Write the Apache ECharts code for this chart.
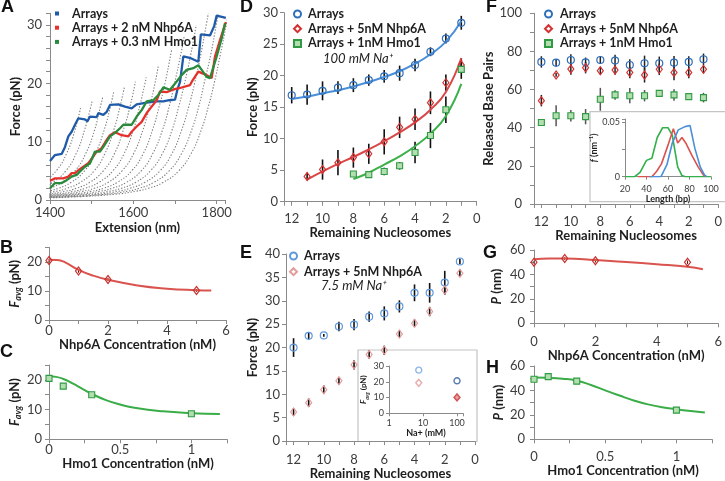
<!DOCTYPE html>
<html><head><meta charset="utf-8"><title>chart</title>
<script src="https://cdn.jsdelivr.net/npm/echarts@6/dist/echarts.min.js"></script>
<style>html,body{margin:0;padding:0;background:#fff;}#chart{width:725px;height:481px;}</style>
</head><body><div id="chart"></div>
<script>
// ---------- Panel A : force-extension traces ----------
const aBlueTrace = [[1400,6.7],[1412,7.7],[1428,7.9],[1436,9.1],[1444,10.9],[1452,11.7],[1460,12.9],[1468,14.0],[1484,13.8],[1490,13.5],[1496,14.3],[1512,14.2],[1516,14.9],[1528,14.6],[1536,15.1],[1544,16.3],[1564,16.4],[1580,16.0],[1596,15.7],[1608,16.4],[1632,16.7],[1656,16.9],[1672,16.9],[1686,17.1],[1700,17.2],[1706,19.0],[1712,20.2],[1720,24.6],[1738,24.3],[1756,23.7],[1762,28.4],[1784,28.2],[1794,29.8],[1800,31.6],[1822,31.2]];
const aRedTrace = [[1400,3.3],[1412,3.7],[1432,3.7],[1444,4.0],[1452,4.6],[1460,4.6],[1468,5.1],[1480,5.7],[1492,6.3],[1500,7.1],[1512,8.3],[1524,8.9],[1536,10.3],[1544,11.1],[1556,11.6],[1572,11.1],[1588,10.9],[1596,11.7],[1608,12.6],[1620,13.4],[1632,14.9],[1644,16.0],[1656,17.1],[1664,18.6],[1680,18.5],[1695,18.9],[1712,19.2],[1736,19.7],[1743,20.6],[1756,22.0],[1776,21.4],[1788,20.9],[1796,24.6],[1808,27.4],[1822,30.5]];
const aGreenTrace = [[1400,2.0],[1412,2.9],[1428,2.9],[1440,3.4],[1452,4.0],[1464,4.3],[1472,4.9],[1484,5.7],[1496,6.3],[1508,8.3],[1520,8.3],[1528,9.1],[1544,10.9],[1556,11.5],[1568,12.3],[1576,12.9],[1596,12.9],[1608,14.3],[1620,15.4],[1632,16.9],[1648,17.1],[1660,18.0],[1672,19.3],[1688,18.9],[1704,20.3],[1716,21.4],[1728,22.3],[1744,22.6],[1756,23.1],[1764,22.3],[1776,21.1],[1784,20.9],[1800,24.6],[1812,27.7],[1820,30.3]];
const aGuideCurves = [
 [[1384,3],[1415,5],[1440,8],[1460,12],[1474,16]],
 [[1376,2],[1406,3],[1438,5],[1463,8],[1483,12],[1498,16],[1501,17]],
 [[1373,1.5],[1398,2],[1428,3],[1460,5],[1486,8],[1507,12],[1521,16],[1527,17.8]],
 [[1352,1],[1394,1.5],[1420,2],[1450,3],[1483,5],[1509,8],[1530,12],[1545,16],[1553,18.6]],
 [[1372,1],[1415,1.5],[1441,2],[1472,3],[1506,5],[1532,8],[1553,12],[1568,16],[1579,19.5]],
 [[1296,0.5],[1393,1],[1437,1.5],[1463,2],[1495,3],[1528,5],[1555,8],[1576,12],[1592,16],[1605,20.3]],
 [[1315,0.5],[1414,1],[1458,1.5],[1484,2],[1517,3],[1551,5],[1578,8],[1600,12],[1615,16],[1628,20],[1631,21]],
 [[1334,0.5],[1434,1],[1479,1.5],[1506,2],[1539,3],[1573,5],[1601,8],[1623,12],[1639,16],[1652,20],[1660,23]],
 [[1353,0.5],[1455,1],[1500,1.5],[1528,2],[1561,3],[1596,5],[1624,8],[1646,12],[1662,16],[1676,20],[1690,25],[1692,25.7]],
 [[1373,0.5],[1475,1],[1521,1.5],[1549,2],[1583,3],[1619,5],[1647,8],[1670,12],[1686,16],[1699,20],[1714,25],[1722,28]],
 [[1392,0.5],[1496,1],[1543,1.5],[1571,2],[1605,3],[1641,5],[1670,8],[1693,12],[1709,16],[1723,20],[1738,25],[1751,30]],
 [[1306,0.3],[1411,0.5],[1517,1],[1564,1.5],[1592,2],[1627,3],[1664,5],[1693,8],[1716,12],[1733,16],[1747,20],[1762,25],[1775,30],[1780,32]],
 [[1324,0.3],[1430,0.5],[1537,1],[1585,1.5],[1614,2],[1649,3],[1686,5],[1716,8],[1740,12],[1757,16],[1770,20],[1786,25],[1799,30],[1804,32]],
 [[1342,0.3],[1449,0.5],[1558,1],[1606,1.5],[1636,2],[1671,3],[1709,5],[1739,8],[1763,12],[1780,16],[1794,20],[1809,25],[1823,30],[1828,32]]
];
// ---------- Panel B ----------
const bConc = [0,1,2,5];
const bFavg = [20.5,16.9,14.0,10.2];
const bErr = [0.6,0.6,0.6,0.5];
const bFitConc = [0,0.25,0.5,1,1.5,2,3,4,5,5.5];
const bFitF = [20.8,20.7,20.1,17.3,15.3,13.9,11.9,10.8,10.3,10.2];
// ---------- Panel C ----------
const cConc = [0,0.1,0.3,1];
const cFavg = [20.5,17.9,15.0,8.6];
const cErr = [0.5,0.7,0.8,0.5];
const cFitConc = [0,0.05,0.1,0.15,0.2,0.3,0.4,0.5,0.6,0.8,1.0,1.2];
const cFitF = [21.2,21.0,20.3,19.2,17.9,15.3,13.2,11.7,10.6,9.4,8.8,8.5];
// ---------- Panel D ----------
const nucAll = [12,11,10,9,8,7,6,5,4,3,2,1];
const dArrays = [16.9,17.0,17.6,18.1,18.5,19.3,19.9,20.4,21.7,23.8,25.9,28.4];
const dArraysErr = [1.3,1.6,1.5,1.0,1.1,0.9,1.0,1.2,1.0,0.7,0.8,1.1];
const dArraysFit = [16.3,16.7,17.2,17.7,18.3,19.0,19.8,20.7,21.9,23.4,25.4,28.7];
const dNhpNuc = [11,10,9,8,7,6,5,4,3,2,1];
const dNhp = [4.0,5.1,6.2,7.0,7.6,9.5,11.8,13.1,15.7,18.9,21.7];
const dNhpErr = [0.6,1.6,2.0,1.6,1.6,2.0,1.7,1.7,1.8,1.3,1.1];
const dNhpFit = [3.5,4.8,6.0,7.1,8.3,9.6,11.0,12.6,14.6,17.4,22.8];
const dHmoNuc = [8,7,6,5,4,3,2,1];
const dHmo = [4.4,4.3,4.8,5.7,7.8,10.5,14.6,21.0];
const dHmoErr = [0.3,0.5,0.6,0.6,1.7,2.0,2.1,1.5];
const dHmoFit = [3.6,4.6,5.9,7.2,8.8,10.8,13.6,18.7];
// ---------- Panel E ----------
const eArrays = [20.0,22.5,22.6,24.5,24.9,26.6,27.3,28.8,31.7,31.7,33.9,38.4];
const eArraysErr = [2.0,0.7,0.3,1.0,1.2,1.1,1.5,1.3,1.8,2.1,2.5,0.6];
const eNhp = [6.2,8.2,11.0,12.9,16.3,18.5,19.4,22.9,25.2,27.7,32.3,35.9];
const eNhpErr = [0.8,0.9,0.9,0.8,1.0,0.9,1.0,0.7,0.8,1.0,1.0,0.8];
const eInsetNa = [7.5,100];
const eInsetArrays = [27.4,20.6];
const eInsetNhp = [19.3,10.1];
// ---------- Panel F ----------
const fArrays = [74.5,74.1,75.5,74.3,75.5,75.2,72.9,73.8,73.8,74.1,74.5,75.9];
const fArraysErr = [3,2,3,2.5,2,3,3,4,3.5,3.5,3,3];
const fNhp = [54.2,67.7,70.8,71.5,69.9,70.3,68.9,67.7,70.6,68.9,68.9,70.6];
const fNhpErr = [3,1,3,3,2,2.5,3,4,3,4,3,2];
const fHmo = [42.7,46.3,46.3,45.8,54.9,57.2,56.8,56.8,58.0,57.2,56.3,55.8];
const fHmoErr = [1.5,5.5,3,4,6,2.5,4,3,1,3,1,2.5];
const fLenGreen = [20,29,34,40,45,50,55,60,64,69,73,76,100];
const fFreqGreen = [0,0,0.004,0.015,0.017,0.036,0.045,0.045,0.038,0.009,0.001,0,0];
const fLenRed = [32,45,49.5,54,60,65,69,73,76.5,82,88,93,95];
const fFreqRed = [0,0,0.005,0.012,0.029,0.044,0.031,0.036,0.031,0.020,0.009,0.0015,0];
const fLenBlue = [43,53.5,59,64,69.6,75.8,80.5,85,90,94,96];
const fFreqBlue = [0,0,0.011,0.031,0.043,0.046,0.047,0.026,0.009,0.0015,0];
// ---------- Panel G ----------
const gConc = [0,1,2,5];
const gP = [49.9,53.0,51.2,49.9];
const gErr = [1.2,1.2,1.5,1.5];
const gFitConc = [0,0.5,1,2,3,4,5,5.5];
const gFitP = [52.5,53.0,53.0,51.8,50.2,48.4,46.3,44.3];
// ---------- Panel H ----------
const hConc = [0,0.1,0.3,1];
const hP = [49.2,51.3,47.6,23.9];
const hErr = [1.0,1.0,1.2,1.0];
const hFitConc = [0,0.1,0.2,0.3,0.4,0.5,0.6,0.7,0.8,0.9,1.0,1.1,1.2];
const hFitP = [50.5,50.3,49.6,48.0,44.5,40.0,35.8,31.8,28.6,26.2,24.6,23.1,21.9];
// tick labels
const aXLabels=[1400,1600,1800], aYLabels=[0,10,20,30];
const bXLabels=[0,2,4,6], bYLabels=[0,10,20];
const cXLabels=[0,0.5,1], cYLabels=[0,10,20];
const nucLabels=[0,2,4,6,8,10,12];
const dYLabels=[0,5,10,15,20,25,30], eYLabels=[0,5,10,15,20,25,30,35,40];
const eInXLabels=[1,10,100], eInYLabels=[0,10,20,30];
const fYLabels=[0,20,40,60,80,100];
const fInXLabels=[20,40,60,80,100], fInYLabels=[0,0.05];
const ghYLabels=[0,20,40,60];

const legendText = {
  A_arr:'Arrays', A_nhp:'Arrays + 2 nM Nhp6A', A_hmo:'Arrays + 0.3 nM Hmo1',
  D_arr:'Arrays', D_nhp:'Arrays + 5nM Nhp6A', D_hmo:'Arrays + 1nM Hmo1',
  E_arr:'Arrays', E_nhp:'Arrays + 5nM Nhp6A',
  F_arr:'Arrays', F_nhp:'Arrays + 5nM Nhp6A', F_hmo:'Arrays + 1nM Hmo1'
};

const FONT = 'Lato, "DejaVu Sans", sans-serif';
const BLUE='#2e6fba', RED='#d62f2f', GREEN='#2f9a43', GFILL='#b3dfb0';
const zip = (xs, ys) => xs.map((x,i)=>[x, ys[i]]);

function axis(c){
  return {
    type: c.type || 'value', gridIndex: c.g, min: c.min, max: c.max, interval: c.interval,
    logBase: c.logBase, inverse: !!c.inverse, z: c.z || 0,
    name: c.name || '', nameLocation: 'middle', nameGap: c.nameGap || 20,
    nameTextStyle: {fontFamily: FONT, fontSize: c.nameSize || 13, fontWeight: 'bold', color: '#1e1e1e', rich: c.rich},
    axisLine: {show: true, onZero: false, lineStyle: {color: '#8a8a8a', width: 1}},
    axisTick: {show: true, length: c.tickLen || 4, lineStyle: {color: '#8a8a8a'}},
    minorTick: {show: false}, splitLine: {show: false},
    axisLabel: {show: true, margin: c.margin, fontFamily: FONT, fontSize: c.labelSize || 13, color: '#3c3c3c',
      hideOverlap: false, showMinLabel: true, showMaxLabel: true,
      formatter: v => c.labels.some(l => Math.abs(l - v) <= 1e-6 * Math.max(1, Math.abs(l))) ? String(+(+v).toPrecision(6)) : ''}
  };
}
const favgRich = (s) => ({i:{fontStyle:'italic', fontWeight:'bold', fontSize:s, fontFamily:FONT, color:'#1e1e1e', lineHeight:s+4},
                         s:{fontStyle:'italic', fontWeight:'bold', fontSize:Math.round(s*0.68), fontFamily:FONT, color:'#1e1e1e', verticalAlign:'bottom', lineHeight:Math.round(s*0.68)+1},
                         n:{fontWeight:'bold', fontSize:s, fontFamily:FONT, color:'#1e1e1e', lineHeight:s+4}});
const pRich = {i:{fontStyle:'italic', fontWeight:'bold', fontSize:13, fontFamily:FONT, color:'#1e1e1e'}, n:{fontWeight:'bold', fontSize:13, fontFamily:FONT, color:'#1e1e1e'}};

const grid = [
  {left:50, top:13.3, width:175, height:186.7},   // 0 A
  {left:49, top:247.5, width:177, height:72.5},   // 1 B
  {left:49, top:365, width:178, height:74.3},     // 2 C
  {left:284, top:12.7, width:192.7, height:189},  // 3 D
  {left:286, top:254, width:189, height:187.7},   // 4 E
  {left:389, top:366, width:74, height:47.3},     // 5 E inset
  {left:534, top:13.3, width:191, height:190.7},  // 6 F
  {left:625, top:119, width:86, height:57.7},     // 7 F inset
  {left:534, top:250, width:188, height:73.3},    // 8 G
  {left:534, top:366, width:178, height:73.3}     // 9 H
];

const xAxis = [
  axis({g:0, min:1400, max:1820, interval:100, labels:aXLabels, margin:6, name:'Extension (nm)', nameGap:21}),
  axis({g:1, min:0, max:6, interval:1, labels:bXLabels, margin:4, name:'Nhp6A Concentration (nM)', nameGap:14}),
  axis({g:2, min:0, max:1.25, interval:0.25, labels:cXLabels, margin:4, name:'Hmo1 Concentration (nM)', nameGap:9}),
  axis({g:3, min:0, max:12.5, interval:1, inverse:true, labels:nucLabels, margin:11, name:'Remaining Nucleosomes', nameGap:23}),
  axis({g:4, min:0, max:12.5, interval:1, inverse:true, labels:nucLabels, margin:12, name:'Remaining Nucleosomes', nameGap:24}),
  axis({g:5, type:'log', logBase:10, min:1, max:150, labels:eInXLabels, margin:5, labelSize:9, tickLen:3, name:'Na+ (mM)', nameSize:9, nameGap:14, z:3}),
  axis({g:6, min:0, max:12.5, interval:1, inverse:true, labels:nucLabels, margin:11, name:'Remaining Nucleosomes', nameGap:21}),
  axis({g:7, min:20, max:100, interval:20, labels:fInXLabels, margin:8, labelSize:9, tickLen:3, name:'Length (bp)', nameSize:9, nameGap:13, z:3}),
  axis({g:8, min:0, max:6, interval:1, labels:bXLabels, margin:12, name:'Nhp6A Concentration (nM)', nameGap:22}),
  axis({g:9, min:0, max:1.25, interval:0.25, labels:cXLabels, margin:11, name:'Hmo1 Concentration (nM)', nameGap:21})
];
const yAxis = [
  axis({g:0, min:0, max:32, interval:2, labels:aYLabels, margin:8, name:'Force (pN)', nameGap:28}),
  axis({g:1, min:0, max:25, interval:5, labels:bYLabels, margin:7, name:'{i|F}{s|avg}{n| (pN)}', rich:favgRich(13), nameGap:26}),
  axis({g:2, min:0, max:25, interval:5, labels:cYLabels, margin:7, name:'{i|F}{s|avg}{n| (pN)}', rich:favgRich(13), nameGap:26}),
  axis({g:3, min:0, max:30, interval:5, labels:dYLabels, margin:6, name:'Force (pN)', nameGap:25}),
  axis({g:4, min:0, max:40, interval:5, labels:eYLabels, margin:6, name:'Force (pN)', nameGap:27}),
  axis({g:5, min:0, max:30, interval:10, labels:eInYLabels, margin:5, labelSize:9, tickLen:3, name:'{i|F}{s|avg}{n| (pN)}', rich:favgRich(8), nameSize:8, nameGap:16, z:3}),
  axis({g:6, min:0, max:100, interval:10, labels:fYLabels, margin:12, name:'Released Base Pairs', nameGap:34}),
  axis({g:7, min:0, max:0.053, interval:0.025, labels:fInYLabels, margin:5, labelSize:9, tickLen:3, name:'{i|f}{n| (nm⁻¹)}', rich:{i:{fontStyle:'italic',fontWeight:'bold',fontSize:9,fontFamily:FONT,color:'#1e1e1e'}, n:{fontWeight:'bold',fontSize:9,fontFamily:FONT,color:'#1e1e1e'}}, nameSize:9, nameGap:8, z:3}),
  axis({g:8, min:0, max:60, interval:10, labels:ghYLabels, margin:9, name:'{i|P}{n| (nm)}', rich:pRich, nameGap:31}),
  axis({g:9, min:0, max:60, interval:10, labels:ghYLabels, margin:9, name:'{i|P}{n| (nm)}', rich:pRich, nameGap:29})
];

function errBars(ai, xs, ys, es, color, width, z){
  return {type:'custom', xAxisIndex:ai, yAxisIndex:ai, silent:true, z: z || 2,
    data: xs.map((x,i)=>[x, ys[i]-es[i], ys[i]+es[i]]), encode:{x:0, y:[1,2]},
    renderItem: (params, api) => {
      const p1 = api.coord([api.value(0), api.value(1)]);
      const p2 = api.coord([api.value(0), api.value(2)]);
      return {type:'line', shape:{x1:p1[0], y1:p1[1], x2:p2[0], y2:p2[1]}, style:{stroke:color, lineWidth:width}};
    }};
}
function pts(ai, name, xs, ys, shape, size, stroke, fill, bw){
  return {type:'scatter', name:name, xAxisIndex:ai, yAxisIndex:ai, data:zip(xs,ys), symbol:shape, symbolSize:size, z:4,
    itemStyle:{color: fill || 'rgba(255,255,255,0)', borderColor: stroke, borderWidth: bw || 1.2, opacity:1}};
}
function fit(ai, xs, ys, color, w){
  return {type:'line', xAxisIndex:ai, yAxisIndex:ai, data:zip(xs,ys), smooth:true, symbol:'none', silent:true, z:3,
    lineStyle:{color:color, width: w || 2}};
}

const series = [];
// A guides
aGuideCurves.forEach(c => series.push({type:'line', xAxisIndex:0, yAxisIndex:0, data:c, smooth:true, symbol:'none', clip:true, silent:true, z:1,
  lineStyle:{color:'#7d7d7d', width:1.1, type:[1.3,1.7]}}));
[['A_arr', aBlueTrace, '#1f5ba8'], ['A_nhp', aRedTrace, '#e5302b'], ['A_hmo', aGreenTrace, '#2a8a3c']].forEach(t =>
  series.push({type:'line', name:t[0], xAxisIndex:0, yAxisIndex:0, data:t[1], symbol:'none', clip:false, z:3,
    lineStyle:{color:t[2], width:2.3}, itemStyle:{color:t[2]}}));
// B
series.push(fit(1, bFitConc, bFitF, '#d9534f', 2));
series.push(errBars(1, bConc, bFavg, bErr, '#5a1a1a', 1));
series.push(pts(1, 'B_pts', bConc, bFavg, 'diamond', [6,8], '#c9302c'));
// C
series.push(fit(2, cFitConc, cFitF, '#3aad48', 2));
series.push(errBars(2, cConc, cFavg, cErr, '#333', 1));
series.push(pts(2, 'C_pts', cConc, cFavg, 'rect', 6, GREEN, GFILL, 1.1));
// D
series.push(fit(3, nucAll, dArraysFit, '#4a8fd8', 2));
series.push(fit(3, dNhpNuc, dNhpFit, '#d94848', 2));
series.push(fit(3, dHmoNuc, dHmoFit, '#3cb04a', 2));
series.push(errBars(3, nucAll, dArrays, dArraysErr, '#111', 1.6));
series.push(errBars(3, dNhpNuc, dNhp, dNhpErr, '#111', 1.6));
series.push(errBars(3, dHmoNuc, dHmo, dHmoErr, '#111', 1.6));
series.push(pts(3, 'D_arr', nucAll, dArrays, 'circle', 7, BLUE));
series.push(pts(3, 'D_nhp', dNhpNuc, dNhp, 'diamond', [6,8], RED));
series.push(pts(3, 'D_hmo', dHmoNuc, dHmo, 'rect', 6, GREEN, GFILL, 1.1));
// E
series.push(errBars(4, nucAll, eArrays, eArraysErr, '#111', 1.6));
series.push(errBars(4, nucAll, eNhp, eNhpErr, '#111', 1.6));
series.push(pts(4, 'E_arr', nucAll, eArrays, 'circle', 7, '#5f98de'));
series.push(pts(4, 'E_nhp', nucAll, eNhp, 'diamond', [6,8], '#e39c9c'));
// E inset
const eInsetArrColors = ['#6fa2e2', '#2c5a9a'];
const eInsetNhpColors = ['#e29a9a', '#c93434'];
series.push({type:'scatter', xAxisIndex:5, yAxisIndex:5, symbol:'circle', symbolSize:6, z:5,
  data: eInsetNa.map((x,i)=>({value:[x, eInsetArrays[i]], itemStyle:{color:'rgba(255,255,255,0)', borderColor:eInsetArrColors[i], borderWidth:1.4}}))});
series.push({type:'scatter', xAxisIndex:5, yAxisIndex:5, symbol:'diamond', symbolSize:[6,7], z:5,
  data: eInsetNa.map((x,i)=>({value:[x, eInsetNhp[i]], itemStyle:{color: i ? '#e58a8a' : 'rgba(255,255,255,0)', borderColor:eInsetNhpColors[i], borderWidth:1.4}}))});
// F
series.push(errBars(6, nucAll, fArrays, fArraysErr, '#222', 1.5));
series.push(errBars(6, nucAll, fNhp, fNhpErr, '#222', 1.5));
series.push(errBars(6, nucAll, fHmo, fHmoErr, '#555', 1.5));
series.push(pts(6, 'F_arr', nucAll, fArrays, 'circle', 7, BLUE));
series.push(pts(6, 'F_nhp', nucAll, fNhp, 'diamond', [6,8], RED));
series.push(pts(6, 'F_hmo', nucAll, fHmo, 'rect', 6, GREEN, GFILL, 1.1));
// F inset
series.push({type:'line', xAxisIndex:7, yAxisIndex:7, data:zip(fLenGreen, fFreqGreen), symbol:'none', silent:true, z:5, lineStyle:{color:'#32b04a', width:1.6}});
series.push({type:'line', xAxisIndex:7, yAxisIndex:7, data:zip(fLenRed, fFreqRed), symbol:'none', silent:true, z:5, lineStyle:{color:'#d9534f', width:1.6}});
series.push({type:'line', xAxisIndex:7, yAxisIndex:7, data:zip(fLenBlue, fFreqBlue), symbol:'none', silent:true, z:5, lineStyle:{color:'#4a8fd8', width:1.6}});
// G
series.push(fit(8, gFitConc, gFitP, '#d9534f', 2));
series.push(errBars(8, gConc, gP, gErr, '#5a1a1a', 1));
series.push(pts(8, 'G_pts', gConc, gP, 'diamond', [6,8], '#c9302c'));
// H
series.push(fit(9, hFitConc, hFitP, '#3aad48', 2));
series.push(errBars(9, hConc, hP, hErr, '#333', 1));
series.push(pts(9, 'H_pts', hConc, hP, 'rect', 6, GREEN, GFILL, 1.1));

const legStyle = (extra) => Object.assign({orient:'vertical', padding:0, selectedMode:false, itemGap:0.7,
  formatter: n => legendText[n],
  textStyle:{fontFamily:FONT, fontSize:12.5, fontWeight:'bold', color:'#1e1e1e', lineHeight:14, padding:[0,0,0,2]}}, extra);
const legend = [
  legStyle({data:['A_arr','A_nhp','A_hmo'], left:55, top:6.5, itemWidth:4, itemHeight:4, icon:'rect', itemGap:0.2,
    textStyle:{fontFamily:FONT, fontSize:12.5, fontWeight:'bold', color:'#1e1e1e', lineHeight:14, padding:[0,0,0,8]}}),
  legStyle({data:['D_arr','D_nhp','D_hmo'], left:293, top:7, itemWidth:7, itemHeight:7}),
  legStyle({data:['E_arr','E_nhp'], left:289, top:249, itemWidth:7, itemHeight:7, itemGap:1.7}),
  legStyle({data:['F_arr','F_nhp','F_hmo'], left:544, top:7, itemWidth:7, itemHeight:7, textStyle:{fontFamily:FONT, fontSize:12.5, fontWeight:'bold', color:'#1e1e1e', lineHeight:14, padding:[0,0,0,3]}})
];

const letter = (t, l, tp) => ({text:t, left:l, top:tp, padding:0, textStyle:{fontFamily:'"Liberation Sans", Arial, sans-serif', fontSize:18, fontWeight:'bold', color:'#111'}});
const title = [
  letter('A', 1, -2), letter('B', 0, 239), letter('C', 0, 343), letter('D', 240, -2),
  letter('E', 240, 244), letter('F', 486, -2), letter('G', 483, 244), letter('H', 486, 359),
  {text:'100 mM Na⁺', left:323, top:52, padding:0, textStyle:{fontFamily:FONT, fontSize:13, fontStyle:'italic', fontWeight:'normal', color:'#222'}},
  {text:'7.5 mM Na⁺', left:321, top:279, padding:0, textStyle:{fontFamily:FONT, fontSize:13, fontStyle:'italic', fontWeight:'normal', color:'#222'}}
];

const graphic = [
  {type:'rect', shape:{x:358, y:350, width:119, height:91.5}, style:{fill:'#fff', stroke:'#c4c4c4', lineWidth:1.2}, z:-1, silent:true},
  {type:'rect', shape:{x:590, y:111.7, width:136, height:90}, style:{fill:'#fff', stroke:'#c4c4c4', lineWidth:1.2}, z:-1, silent:true}
];

const chart = echarts.init(document.getElementById('chart'), null, {renderer:'canvas'});
chart.setOption({animation:false, backgroundColor:'#fff', grid, xAxis, yAxis, series, legend, title, graphic});
</script></body></html>
